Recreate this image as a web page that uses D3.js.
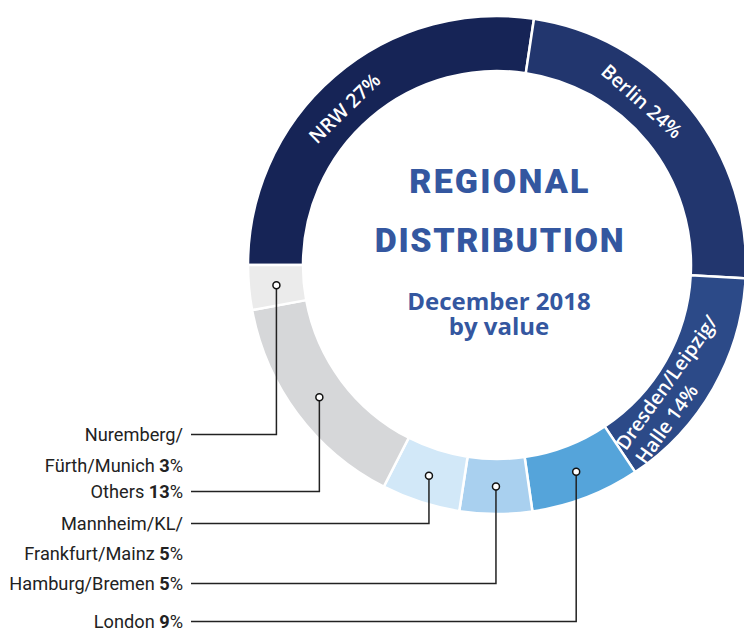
<!DOCTYPE html>
<html>
<head>
<meta charset="utf-8">
<script src="https://cdn.jsdelivr.net/npm/d3@7"></script>
<style>
  body { margin: 0; background: #fff; }
  svg { display: block; }
</style>
</head>
<body>
<div id="container"></div>
<script>
// size of the page
let w = 744;
let h = 632;

// the data, clockwise from 9 o'clock
let regions = ["NRW", "Berlin", "Dresden/Leipzig/Halle", "London", "Hamburg/Bremen",
               "Mannheim/KL/Frankfurt/Mainz", "Others", "Nuremberg/Fürth/Munich"];
// share of the ring as drawn (the arcs are not exactly the printed %)
let shares = [27.4, 23.5, 14.8, 7.1, 4.7, 5.1, 14.6, 2.9];
// printed percentages
let printedPct = [27, 24, 14, 9, 5, 5, 13, 3];
// label text, split in lines (percent goes on the last line)
let labelLines = [["NRW"], ["Berlin"], ["Dresden/Leipzig/", "Halle"], ["London"], ["Hamburg/Bremen"],
                  ["Mannheim/KL/", "Frankfurt/Mainz"], ["Others"], ["Nuremberg/", "Fürth/Munich"]];

let colors = ["#162456", "#22366e", "#2c4a88", "#55a4da", "#a9d0ef", "#d2e8f8", "#d6d7d9", "#ebebeb"];

let data = regions.map(function(d, i){
  return {name: d, share: shares[i], pct: printedPct[i], lines: labelLines[i], color: colors[i]};
});

let cx = 497, cy = 265;
let outerR = 249, innerR = 194;
let midR = (outerR + innerR) / 2;

let viz = d3.select("#container")
  .append("svg")
    .attr("width", w)
    .attr("height", h)
;

let pie = d3.pie()
  .sort(null)
  .value(function(d){ return d.share; })
  .startAngle(-Math.PI / 2)
  .endAngle(Math.PI * 1.5)
;
let arcs = pie(data);

let arc = d3.arc().innerRadius(innerR).outerRadius(outerR);

let ring = viz.append("g").attr("transform", "translate(" + cx + "," + cy + ")");

ring.selectAll("path")
  .data(arcs)
  .enter()
  .append("path")
    .attr("d", arc)
    .attr("fill", function(d){ return d.data.color; })
    .attr("stroke", "#fff")
    .attr("stroke-width", 2.5)
;

function polar(a, r){
  return [r * Math.sin(a), -r * Math.cos(a)];
}

// labels inside the ring for the big three
// where along the slice the label sits (0 = start, 1 = end)
let labelAt = {0: 0.465, 1: 0.39, 2: 0.61};

let inside = arcs.filter(function(d, i){ return i < 3; });
inside.forEach(function(d, i){
  let a = d.startAngle + (d.endAngle - d.startAngle) * labelAt[i];
  let p = polar(a, midR - 3);
  let deg = a * 180 / Math.PI;
  let flip = deg > 90 && deg < 270;
  let rot = flip ? deg - 180 : deg;
  let g = ring.append("g")
    .attr("transform", "translate(" + p[0] + "," + p[1] + ") rotate(" + rot + ")");
  let t = g.append("text")
    .attr("fill", "#fff")
    .attr("font-family", "'Open Sans', sans-serif")
    .attr("font-weight", 600)
    .attr("font-size", 19.5)
  ;
  let n = d.data.lines.length;
  if (n == 1) {
    t.attr("text-anchor", "middle")
      .attr("dy", "0.35em")
      .text(d.data.lines[0] + " " + d.data.pct + "%");
  } else {
    d.data.lines.forEach(function(line, j){
      t.append("tspan")
        .attr("x", -77)
        .attr("y", (j - (n - 1) / 2) * 24)
        .attr("dy", "0.35em")
        .text(j == n - 1 ? line + " " + d.data.pct + "%" : line);
    });
  }
});

// labels on the left for the small slices, with leader lines
// text baselines of each block (layout only)
let rowBaselines = {3: [628], 4: [590], 5: [530, 560], 6: [498], 7: [441, 472]};
let textRight = 183;
let lineStart = 191;

let outside = arcs.filter(function(d, i){ return i >= 3; });
outside.forEach(function(d){
  let idx = d.index;
  let a = (d.startAngle + d.endAngle) / 2;
  let p = polar(a, midR);
  let dotX = cx + p[0], dotY = cy + p[1];
  let bases = rowBaselines[idx];
  let leaderY = bases[0] - 6.5;

  viz.append("path")
    .attr("d", "M" + lineStart + "," + leaderY + "H" + dotX + "V" + (dotY + 3.5))
    .attr("fill", "none")
    .attr("stroke", "#222")
    .attr("stroke-width", 1.5)
  ;
  viz.append("circle")
    .attr("cx", dotX)
    .attr("cy", dotY)
    .attr("r", 3.5)
    .attr("fill", "#fff")
    .attr("stroke", "#111")
    .attr("stroke-width", 1.5)
  ;

  let n = d.data.lines.length;
  d.data.lines.forEach(function(line, j){
    let t = viz.append("text")
      .attr("x", textRight)
      .attr("y", bases[j])
      .attr("text-anchor", "end")
      .attr("font-family", "Roboto, sans-serif")
      .attr("font-size", 18.2)
      .attr("fill", "#222")
    ;
    if (j == n - 1) {
      t.append("tspan").text(line + " ");
      t.append("tspan").attr("font-weight", 700).text(d.data.pct);
      t.append("tspan").text("%");
    } else {
      t.text(line);
    }
  });
});

// title in the middle
let title = viz.append("g").attr("fill", "#3457a0").attr("text-anchor", "middle");
title.append("text")
  .attr("x", 500).attr("y", 193)
  .attr("font-family", "Roboto, sans-serif")
  .attr("font-weight", 900)
  .attr("font-size", 34)
  .attr("letter-spacing", 2.2)
  .text("REGIONAL");
title.append("text")
  .attr("x", 500).attr("y", 252)
  .attr("font-family", "Roboto, sans-serif")
  .attr("font-weight", 900)
  .attr("font-size", 34)
  .attr("letter-spacing", 1.6)
  .text("DISTRIBUTION");
// subtitle, two lines in one text block
let sub = title.append("text")
  .attr("font-family", "'Open Sans', sans-serif")
  .attr("font-weight", 700)
  .attr("font-size", 24)
;
sub.append("tspan").attr("x", 499).attr("y", 310).text("December 2018");
sub.append("tspan").attr("x", 499).attr("y", 335).text("by value");
</script>
</body>
</html>
